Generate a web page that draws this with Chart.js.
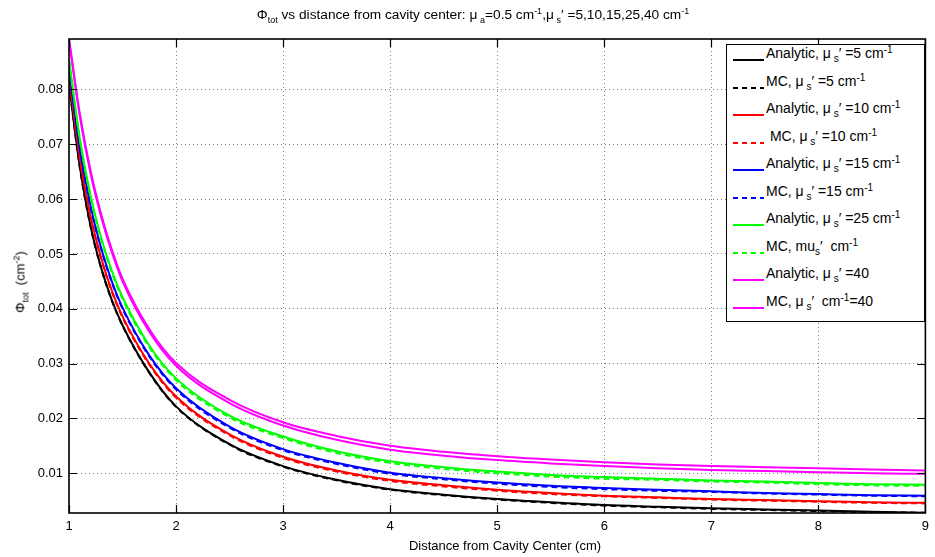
<!DOCTYPE html>
<html>
<head>
<meta charset="utf-8">
<script src="https://cdn.jsdelivr.net/npm/chart.js@4.4.1/dist/chart.umd.min.js"></script>
<style>
  html, body { margin: 0; padding: 0; background: #fff; }
  #wrap { position: relative; width: 935px; height: 557px; overflow: hidden;
          font-family: "Liberation Sans", Arial, Helvetica, sans-serif; color: #000; }
  #plot { position: absolute; left: 0; top: 0; }
  .txt { position: absolute; white-space: nowrap; font-size: 13px; line-height: 13px; }
  .txt sub, .txt sup { font-size: 9px; line-height: 0; }
  .txt sub { vertical-align: -4px; }
  .txt sup { vertical-align: 5px; }
  #title { left: 0; width: 946px; top: 8px; text-align: center; font-size: 13.7px; }
  #ylab { left: 20px; top: 282px; transform: translate(-50%, -50%) rotate(-90deg); }
  #xlab { left: 0; width: 1010px; top: 539px; text-align: center; }
  #legend { position: absolute; left: 726px; top: 44px; width: 199px; height: 278px;
            border: 1px solid #000; background: #fff; box-sizing: border-box; }
  .row { position: absolute; left: 0; width: 197px; height: 20px; }
  .row svg { position: absolute; left: 5px; top: 0; }
  .row .txt { left: 39px; top: 0; font-size: 14px; line-height: 14px; }
  .row .txt sub, .row .txt sup { font-size: 10px; }
</style>
</head>
<body>
<div id="wrap">
  <canvas id="plot" width="935" height="557"></canvas>
  <div class="txt" id="title">&Phi;<sub>tot</sub> vs distance from cavity center: &mu;&#8201;<sub>a</sub>=0.5 cm<sup>-1</sup>,&mu;&#8201;<sub>s</sub>&prime; =5,10,15,25,40 cm<sup>-1</sup></div>
  <div class="txt" id="ylab">&Phi;<sub>tot</sub> &nbsp;(cm<sup>-2</sup>)</div>
  <div class="txt" id="xlab">Distance from Cavity Center (cm)</div>
  <div id="legend"></div>
</div>
<script>
// Distance from the cavity centre (cm)
const distance = [1, 1.1, 1.2, 1.3, 1.4, 1.5, 1.75, 2, 2.5, 3, 3.5, 4, 4.5, 5, 5.5, 6, 6.5, 7, 7.5, 8, 8.5, 9];

// Total fluence (cm^-2), analytic and Monte Carlo, per reduced scattering coefficient
const analytic5  = [0.0810, 0.0660, 0.0552, 0.0475, 0.0416, 0.0370, 0.0284, 0.0222, 0.0153, 0.0113, 0.0088, 0.0071, 0.0061, 0.0053, 0.0047, 0.0042, 0.0039, 0.0036, 0.0034, 0.0032, 0.0030, 0.0028];
const mc5        = [0.0809, 0.0659, 0.0551, 0.0474, 0.0415, 0.0369, 0.0283, 0.0221, 0.0152, 0.0112, 0.0087, 0.0070, 0.0060, 0.0052, 0.0046, 0.0041, 0.0038, 0.0035, 0.0033, 0.0031, 0.0029, 0.0028];
const analytic10 = [0.0826, 0.0677, 0.0570, 0.0493, 0.0433, 0.0386, 0.0300, 0.0240, 0.0171, 0.0130, 0.0105, 0.0088, 0.0078, 0.0070, 0.0064, 0.0059, 0.0056, 0.0053, 0.0051, 0.0049, 0.0047, 0.0046];
const mc10       = [0.0824, 0.0675, 0.0568, 0.0491, 0.0431, 0.0384, 0.0298, 0.0238, 0.0169, 0.0128, 0.0103, 0.0086, 0.0076, 0.0068, 0.0062, 0.0058, 0.0055, 0.0052, 0.0050, 0.0048, 0.0046, 0.0045];
const analytic15 = [0.0840, 0.0695, 0.0589, 0.0511, 0.0450, 0.0402, 0.0315, 0.0255, 0.0185, 0.0144, 0.0119, 0.0101, 0.0091, 0.0083, 0.0077, 0.0073, 0.0070, 0.0067, 0.0064, 0.0062, 0.0060, 0.0059];
const mc15       = [0.0838, 0.0693, 0.0587, 0.0509, 0.0448, 0.0400, 0.0313, 0.0253, 0.0183, 0.0142, 0.0117, 0.0099, 0.0089, 0.0081, 0.0075, 0.0071, 0.0068, 0.0066, 0.0063, 0.0061, 0.0059, 0.0058];
const analytic25 = [0.0855, 0.0712, 0.0608, 0.0530, 0.0469, 0.0421, 0.0333, 0.0273, 0.0205, 0.0167, 0.0140, 0.0122, 0.0111, 0.0103, 0.0097, 0.0093, 0.0090, 0.0087, 0.0085, 0.0082, 0.0080, 0.0079];
const mc25       = [0.0853, 0.0710, 0.0605, 0.0527, 0.0466, 0.0418, 0.0330, 0.0270, 0.0202, 0.0164, 0.0137, 0.0119, 0.0108, 0.0100, 0.0094, 0.0090, 0.0088, 0.0085, 0.0083, 0.0080, 0.0078, 0.0077];
const analytic40 = [0.0890, 0.0752, 0.0648, 0.0568, 0.0503, 0.0450, 0.0358, 0.0296, 0.0228, 0.0187, 0.0161, 0.0143, 0.0132, 0.0124, 0.0118, 0.0113, 0.0109, 0.0106, 0.0104, 0.0102, 0.0100, 0.0099];
const mc40       = [0.0893, 0.0757, 0.0653, 0.0573, 0.0508, 0.0455, 0.0363, 0.0301, 0.0234, 0.0193, 0.0168, 0.0150, 0.0139, 0.0131, 0.0125, 0.0120, 0.0116, 0.0113, 0.0111, 0.0109, 0.0107, 0.0105];

// Axis ticks
const xTickValues = [1, 2, 3, 4, 5, 6, 7, 8, 9];
const xTickLabels = ['1', '2', '3', '4', '5', '6', '7', '8', '9'];
const yTickValues = [0.01, 0.02, 0.03, 0.04, 0.05, 0.06, 0.07, 0.08];
const yTickLabels = ['0.01', '0.02', '0.03', '0.04', '0.05', '0.06', '0.07', '0.08'];

// Legend entries
const MU = '&mu;&#8201;<sub>s</sub>&prime;';
const seriesNames = [
  'Analytic, ' + MU + ' =5 cm<sup>-1</sup>',
  'MC, ' + MU + ' =5 cm<sup>-1</sup>',
  'Analytic, ' + MU + ' =10 cm<sup>-1</sup>',
  '&nbsp;MC, ' + MU + ' =10 cm<sup>-1</sup>',
  'Analytic, ' + MU + ' =15 cm<sup>-1</sup>',
  'MC, ' + MU + ' =15 cm<sup>-1</sup>',
  'Analytic, ' + MU + ' =25 cm<sup>-1</sup>',
  'MC, mu<sub>s</sub>&prime; &nbsp;cm<sup>-1</sup>',
  'Analytic, ' + MU + ' =40',
  'MC, ' + MU + ' &nbsp;cm<sup>-1</sup>=40'
];

const seriesDefs = [
  { values: analytic5,  color: '#000000', dash: [] },
  { values: mc5,        color: '#000000', dash: [6, 4] },
  { values: analytic10, color: '#ff0000', dash: [] },
  { values: mc10,       color: '#ff0000', dash: [6, 4] },
  { values: analytic15, color: '#0000ff', dash: [] },
  { values: mc15,       color: '#0000ff', dash: [6, 4] },
  { values: analytic25, color: '#00ff00', dash: [] },
  { values: mc25,       color: '#00ff00', dash: [6, 4] },
  { values: analytic40, color: '#ff00ff', dash: [] },
  { values: mc40,       color: '#ff00ff', dash: [] }
];

const FONT = { family: '"Liberation Sans", Arial, Helvetica, sans-serif', size: 13 };

// Black box round the plot area with inward tick marks on all four sides
const framePlugin = {
  id: 'frame',
  afterDraw(chart) {
    const { ctx, chartArea: a, scales } = chart;
    const len = 8;
    ctx.save();
    ctx.strokeStyle = '#000';
    ctx.lineWidth = 1.2;
    ctx.beginPath();
    xTickValues.forEach(v => {
      const px = Math.round(scales.x.getPixelForValue(v)) + 0.5;
      ctx.moveTo(px, a.bottom); ctx.lineTo(px, a.bottom - len);
      ctx.moveTo(px, a.top);    ctx.lineTo(px, a.top + len);
    });
    yTickValues.forEach(v => {
      const py = Math.round(scales.y.getPixelForValue(v)) + 0.5;
      ctx.moveTo(a.left, py);  ctx.lineTo(a.left + len, py);
      ctx.moveTo(a.right, py); ctx.lineTo(a.right - len, py);
    });
    ctx.stroke();
    ctx.lineWidth = 1.6;
    ctx.strokeRect(a.left, a.top, a.right - a.left, a.bottom - a.top);
    ctx.restore();
  }
};

new Chart(document.getElementById('plot'), {
  type: 'line',
  data: {
    datasets: seriesDefs.map((d, i) => ({
      label: seriesNames[i],
      data: distance.map((x, j) => ({ x: x, y: d.values[j] })),
      borderColor: d.color,
      backgroundColor: d.color,
      borderWidth: 2,
      borderDash: d.dash,
      pointRadius: 0,
      fill: false,
      cubicInterpolationMode: 'monotone',
      order: seriesDefs.length - i
    }))
  },
  options: {
    responsive: false,
    animation: false,
    devicePixelRatio: 1,
    layout: { padding: { top: 39, right: 6, left: 0, bottom: 0 } },
    plugins: { legend: { display: false }, tooltip: { enabled: false }, title: { display: false } },
    scales: {
      x: {
        type: 'linear', min: 1, max: 9,
        afterBuildTicks: s => { s.ticks = xTickValues.map(v => ({ value: v })); },
        afterFit: s => { s.height = 44; },
        grid: { color: 'rgba(0,0,0,0.5)', lineWidth: 1, drawTicks: false },
        border: { display: false, dash: [1, 3] },
        ticks: { font: FONT, color: '#000', padding: 6, maxRotation: 0,
                 callback: (v, i) => xTickLabels[i] }
      },
      y: {
        type: 'linear', min: 0.00275, max: 0.0892,
        afterBuildTicks: s => { s.ticks = yTickValues.map(v => ({ value: v })); },
        afterFit: s => { s.width = 69; },
        grid: { color: 'rgba(0,0,0,0.5)', lineWidth: 1, drawTicks: false },
        border: { display: false, dash: [1, 3] },
        ticks: { font: FONT, color: '#000', padding: 6,
                 callback: (v, i) => yTickLabels[i] }
      }
    }
  },
  plugins: [framePlugin]
});

// Legend drawn as HTML so sub/superscripts render as text
const legend = document.getElementById('legend');
seriesDefs.forEach((d, i) => {
  const rowY = 15 + 27.5 * i;        // line position inside the box
  const row = document.createElement('div');
  row.className = 'row';
  row.style.top = (rowY - 14) + 'px';
  const dash = d.dash.length ? 'stroke-dasharray="5,4"' : '';
  row.innerHTML =
    '<svg width="33" height="20"><line x1="1" y1="14" x2="32" y2="14" stroke="' + d.color +
    '" stroke-width="2" ' + dash + '/></svg>' +
    '<div class="txt">' + seriesNames[i] + '</div>';
  legend.appendChild(row);
});
</script>
</body>
</html>
